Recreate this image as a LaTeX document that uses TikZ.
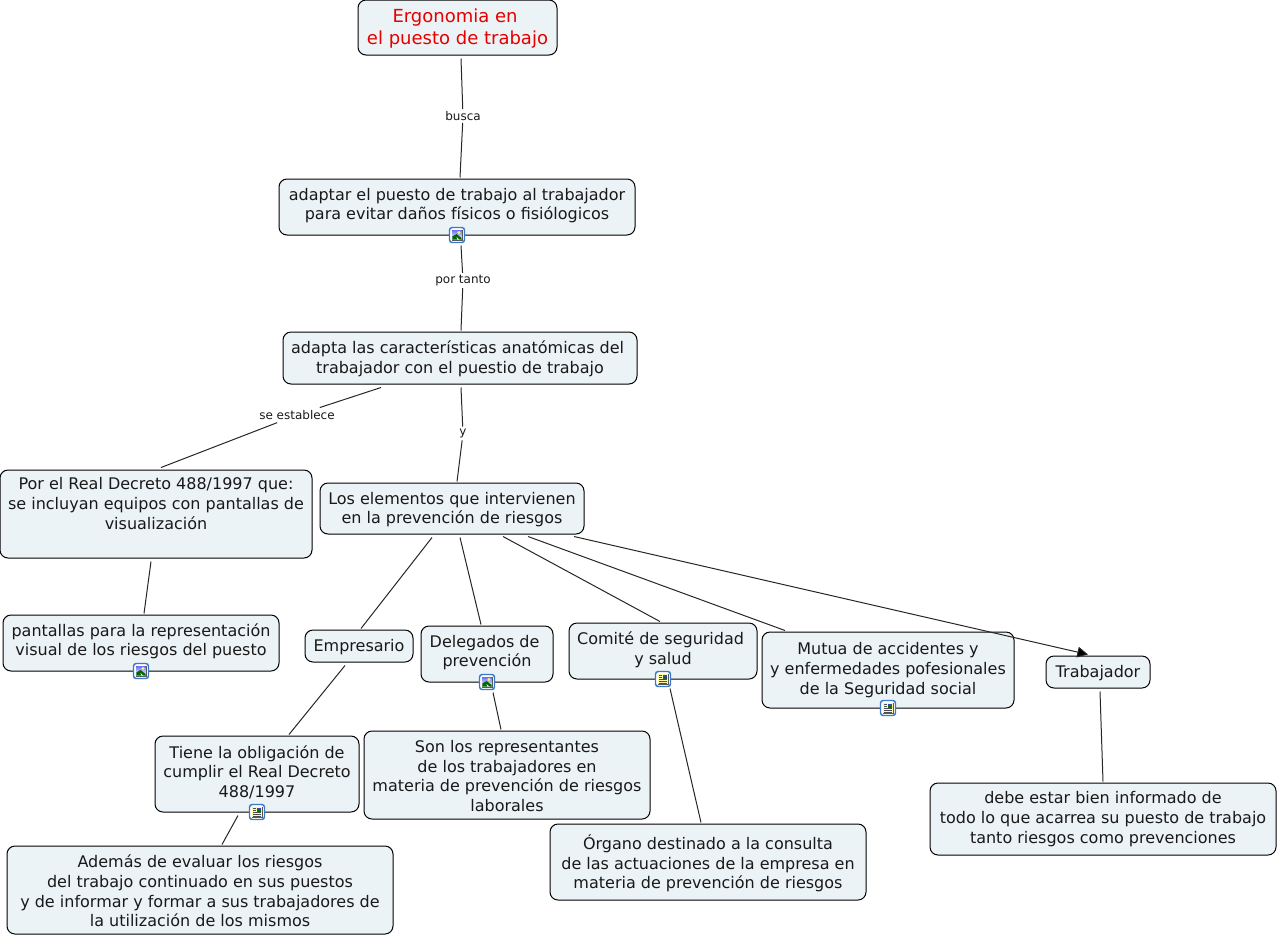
\documentclass[tikz,border=0pt]{standalone}
\usepackage{fontspec}
\setmainfont{DejaVu Sans}
\usetikzlibrary{arrows.meta}
\definecolor{boxfill}{HTML}{ECF3F6}
\definecolor{iconblue}{HTML}{3A78C8}
\tikzset{
  x=0.75pt,y=-0.75pt,
  box/.style={draw=black,fill=boxfill,line width=0.75pt,rounded corners=6pt,align=center,inner sep=0pt,font=\fontsize{12}{14.7}\selectfont,text=black!90},
  title/.style={box,font=\fontsize{13.5}{16.5}\selectfont,text=red!90!black},
  lbl/.style={font=\fontsize{9}{11}\selectfont,inner xsep=1pt,inner ysep=1.5pt,text=black!90},
  conn/.style={draw=black!85,line width=0.75pt},
  imgicon/.pic={
    \draw[iconblue,fill=white,line width=1.1pt,rounded corners=2pt] (-7.5,-7.5) rectangle (7.5,7.5);
    \fill[black!65] (-5.5,-5.5) rectangle (5.5,5.5);
    \shade[top color=blue!55!white,bottom color=white] (-4.7,-4.7) rectangle (4.7,4.7);
    \fill[yellow!60!white] (2,-2.5) circle (1.7);
    \fill[green!40!black] (-4.7,4.7) -- (-4.7,1.5) -- (-0.5,-1) -- (4.7,3) -- (4.7,4.7) -- cycle;
    \fill[white] (-0.5,2) -- (2.5,4.7) -- (0.5,4.7) -- cycle;
  },
  noteicon/.pic={
    \draw[iconblue,fill=white,line width=1.1pt,rounded corners=2pt] (-7.5,-7.5) rectangle (7.5,7.5);
    \fill[black!65] (-5.5,-5.5) rectangle (5.5,5.5);
    \fill[yellow!35!white] (-4.7,-4.7) rectangle (4.7,4.7);
    \fill[blue!50!gray] (0,-4) rectangle (4,-0.5);
    \fill[green!45!black] (0,-0.5) -- (0,-2) -- (2,-2.5) -- (4,-1.5) -- (4,-0.5) -- cycle;
    \draw[black!70,line width=0.5pt] (-4,-3.5) -- (-1,-3.5) (-4,-1.5) -- (-1,-1.5) (-4,0.8) -- (4,0.8) (-4,2.5) -- (4,2.5) (-4,4) -- (4,4);
  }
}
\newcommand{\bx}[7][box]{\node[#1,minimum width={(#5-#3)*0.75pt},minimum height={(#6-#4)*0.75pt}] (#2) at ({(#3+#5)/2},{(#4+#6)/2}) {#7};}
\newcommand{\up}[1]{\rule{0pt}{#1pt}}
\newcommand{\dn}[1]{\rule[-#1pt]{0pt}{0pt}}
\begin{document}
\begin{tikzpicture}
\useasboundingbox (0,0) rectangle (1278,936);
\bx[title]{ergo}{358}{0}{557}{55}{\up{11.8}Ergonomia en\hspace*{0.27em}\\el puesto de trabajo}
\bx{adapt}{279}{179}{635}{235}{adaptar el puesto de trabajo al trabajador\\para evitar daños físicos o fisiólogicos\dn{4.5}}
\bx{adapta}{283}{332}{637}{384}{\up{10.6}adapta las características anatómicas del\hspace*{0.3em}\\trabajador con el puestio de trabajo}
\bx{rd}{0}{470}{312}{558}{Por el Real Decreto 488/1997 que:\\se incluyan equipos con pantallas de\\visualización\dn{16}}
\bx{elem}{320}{483}{584}{534}{\up{10.6}Los elementos que intervienen\\en la prevención de riesgos}
\bx{pant}{3}{615}{279}{671}{pantallas para la representación\\visual de los riesgos del puesto\dn{5}}
\bx{emp}{305}{630}{413}{662}{\up{10.6}Empresario}
\bx{deleg}{421}{626}{553}{682}{Delegados de\hspace*{0.3em}\\prevención\dn{4.5}}
\bx{comite}{569}{623}{757}{679}{Comité de seguridad\hspace*{0.3em}\\y salud\dn{4.5}}
\bx{mutua}{762}{632}{1014}{708}{Mutua de accidentes y\\y enfermedades pofesionales\\de la Seguridad social}
\bx{trab}{1046}{656}{1150}{688}{\up{10.6}Trabajador}
\bx{tiene}{155}{736}{359}{812}{Tiene la obligación de\\cumplir el Real Decreto\\488/1997\dn{4}}
\bx{son}{364}{731}{650}{819}{\up{10.6}Son los representantes\\de los trabajadores en\\materia de prevención de riesgos\\laborales}
\bx{organo}{550}{824}{866}{900}{\up{13.5}Órgano destinado a la consulta\\de las actuaciones de la empresa en\\materia de prevención de riesgos}
\bx{debe}{930}{783}{1276}{855}{debe estar bien informado de\\todo lo que acarrea su puesto de trabajo\\tanto riesgos como prevenciones}
\bx{ademas}{7}{846}{393}{934}{\up{11}Además de evaluar los riesgos\\del trabajo continuado en sus puestos\\y de informar y formar a sus trabajadores de\hspace*{0.3em}\\la utilización de los mismos}

\node[lbl] (busca) at (463,116) {busca};
\node[lbl] (portanto) at (463,280.5) {por tanto};
\node[lbl] (seest) at (297,415) {se establece};
\node[lbl] (yy) at (463,433.5) {y};

\draw[conn] ([shift={(3.5,3)}]ergo.south) -- (busca);
\draw[conn] (busca) -- ([shift={(3,-1)}]adapt.north);
\draw[conn] ([shift={(4,10)}]adapt.south) -- (portanto);
\draw[conn] (portanto) -- ([shift={(1,-1)}]adapta.north);
\draw[conn,shorten >=18pt] ([shift={(-79,3)}]adapta.south) -- (seest.center);
\draw[conn,shorten <=16pt] (seest.center) -- ([shift={(5,-2)}]rd.north);
\draw[conn] ([shift={(1,3)}]adapta.south) -- (yy);
\draw[conn] (yy) -- ([shift={(5,-1)}]elem.north);
\draw[conn] ([shift={(-5,3)}]rd.south) -- ([shift={(3,-1)}]pant.north);
\draw[conn] ([shift={(-20,3)}]elem.south) -- ([shift={(2,-1)}]emp.north);
\draw[conn] ([shift={(8,3)}]elem.south) -- ([shift={(-6,-1)}]deleg.north);
\draw[conn] ([shift={(51,2)}]elem.south) -- ([shift={(-3,-1)}]comite.north);
\draw[conn] ([shift={(76,2)}]elem.south) -- ([shift={(-103,-1)}]mutua.north);
\draw[conn,-{Triangle[length=8pt,width=8pt,fill=black]}] ([shift={(122,2)}]elem.south) -- ([shift={(-10,-1)}]trab.north);
\draw[conn] ([shift={(2,3)}]trab.south) -- ([shift={(0,-1)}]debe.north);
\draw[conn] ([shift={(-14,3)}]emp.south) -- ([shift={(32,-1)}]tiene.north);
\draw[conn] ([shift={(6,10)}]deleg.south) -- ([shift={(-6,-1)}]son.north);
\draw[conn] ([shift={(7,9)}]comite.south) -- ([shift={(-7,-1)}]organo.north);
\draw[conn] ([shift={(-19,3)}]tiene.south) -- ([shift={(22,-1)}]ademas.north);

\pic at (457,235) {imgicon};
\pic at (141,671) {imgicon};
\pic at (487,682) {imgicon};
\pic at (663,679) {noteicon};
\pic at (888,708) {noteicon};
\pic at (257,812) {noteicon};
\end{tikzpicture}
\end{document}
